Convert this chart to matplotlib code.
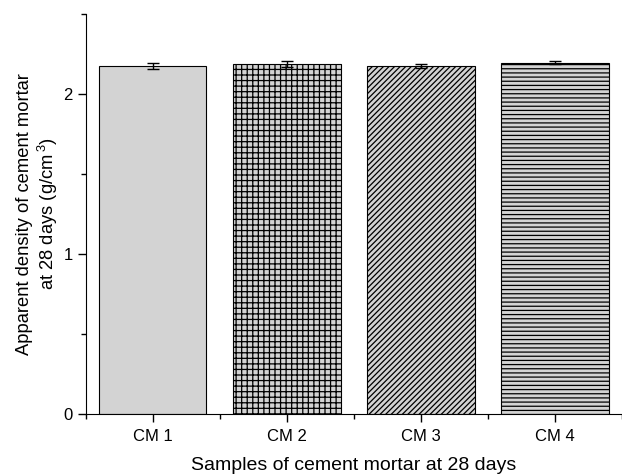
import numpy as np
import matplotlib.pyplot as plt
from matplotlib.ticker import MultipleLocator

plt.rcParams['font.family'] = ['Liberation Sans', 'DejaVu Sans']
plt.rcParams['mathtext.fontset'] = 'custom'
plt.rcParams['mathtext.rm'] = 'Liberation Sans'
plt.rcParams['hatch.linewidth'] = 0.9

samples = ['CM 1', 'CM 2', 'CM 3', 'CM 4']
density = [2.172, 2.185, 2.173, 2.195]
density_err = [0.018, 0.018, 0.011, 0.008]
hatches = ['', '+++', '//////', '----']

fig = plt.figure(figsize=(6.22, 4.75), dpi=100)
ax = fig.add_axes([0.138, 0.128, 0.862, 0.843])

x = np.arange(1, len(samples) + 1)
bars = ax.bar(x, density, width=0.8, color='#d3d3d3', edgecolor='black',
              linewidth=0.8, zorder=2)
for b, h in zip(bars, hatches):
    b.set_hatch(h)
ax.errorbar(x, density, yerr=density_err, fmt='none', ecolor='black',
            elinewidth=1, capsize=4, capthick=1, zorder=3)

ax.set_xlim(0.5, 4.5)
ax.set_ylim(0, 2.5)
ax.set_xticks(x)
ax.set_xticklabels(samples)
ax.xaxis.set_minor_locator(MultipleLocator(1, offset=0.5))
ax.set_yticks([0, 1, 2])
ax.yaxis.set_minor_locator(MultipleLocator(0.5))

ax.spines['top'].set_visible(False)
ax.spines['right'].set_visible(False)
ax.tick_params(axis='both', which='major', direction='out', length=6,
               width=1, labelsize=12)
ax.tick_params(axis='both', which='minor', direction='out', length=3.5,
               width=1)
ax.tick_params(axis='x', pad=5)

ax.set_xlabel('Samples of cement mortar at 28 days', fontsize=14, labelpad=9)
ax.set_ylabel('Apparent density of cement mortar\nat 28 days (g/cm$^{\\,3}$)',
              fontsize=13.2, labelpad=2)

fig.savefig('out.png', dpi=100)
